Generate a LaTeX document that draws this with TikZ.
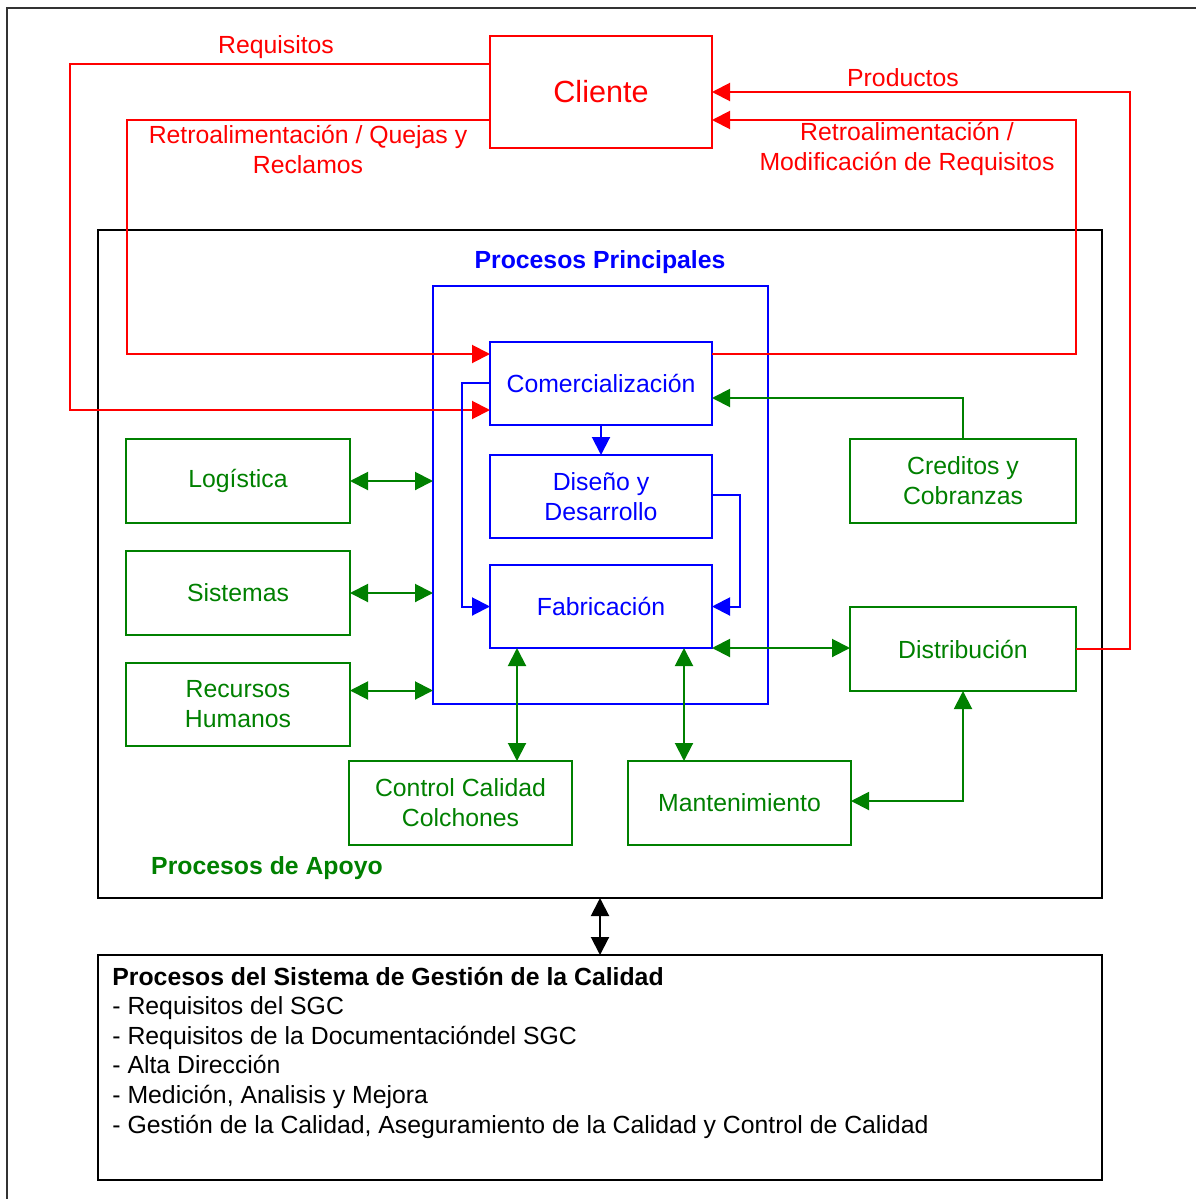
\documentclass[tikz,border=0pt]{standalone}
\usepackage{fontspec}
\setmainfont{Liberation Sans}
\usetikzlibrary{arrows.meta,calc}
\definecolor{gr}{RGB}{0,128,0}
\definecolor{rd}{RGB}{255,0,0}
\definecolor{bl}{RGB}{0,0,255}

\begin{document}
\begin{tikzpicture}[x=0.5pt,y=-0.5pt,
  every node/.style={font=\fontsize{12.4}{15}\selectfont},
  bx/.style 2 args={draw, rectangle, inner sep=0pt, outer sep=0pt,
    minimum width=#1*0.5pt, minimum height=#2*0.5pt, line width=1pt, align=center},
  redbox/.style={draw=rd, text=rd},
  bluebox/.style={draw=bl, text=bl},
  greenbox/.style={draw=gr, text=gr},
  blackbox/.style={draw=black},
  ln/.style={line width=1pt},
  tipend/.style={-{Triangle[length=9pt,width=9pt]}},
  tipboth/.style={{Triangle[length=9pt,width=9pt]}-{Triangle[length=9pt,width=9pt]}},
  redln/.style={ln, draw=rd, tipend},
  blueln/.style={ln, draw=bl, tipend},
  greenln/.style={ln, draw=gr, tipend},
  greenboth/.style={ln, draw=gr, tipboth},
  blackboth/.style={ln, draw=black, tipboth},
  lbl/.style={inner sep=0pt, align=center}
]
\useasboundingbox (0,0) rectangle (1196,1199);

% page frame
\draw[line width=1pt, black!80] (7,1199) -- (7,8) -- (1196,8);

% containers
\node[bx={1004}{668}, blackbox] (apoyo) at (600,564) {};
\node[bx={335}{418}, bluebox] (prin) at (600.5,495) {};
\node[bx={1004}{225}, blackbox] (sgc) at (600,1067.5) {};

% client
\node[bx={222}{112}, redbox, font=\fontsize{15.3}{18}\selectfont] (cliente) at (601,92) {Cliente};

% main processes
\node[bx={222}{83}, bluebox] (comerc) at (601,383) {Comercialización};
\node[bx={222}{83}, bluebox] (diseno) at (601,496.5) {Diseño y\\Desarrollo};
\node[bx={222}{83}, bluebox] (fab) at (601,606.5) {Fabricación};

% support processes
\node[bx={224}{84}, greenbox] (log) at (238,481) {Logística};
\node[bx={224}{84}, greenbox] (sis) at (238,593) {Sistemas};
\node[bx={224}{83}, greenbox] (rh) at (238,704.5) {Recursos\\Humanos};
\node[bx={226}{84}, greenbox] (cred) at (963,481) {Creditos y\\Cobranzas};
\node[bx={226}{84}, greenbox] (dist) at (963,649) {Distribución};
\node[bx={223}{84}, greenbox] (ctrl) at (460.5,803) {Control Calidad\\Colchones};
\node[bx={223}{84}, greenbox] (mant) at (739.5,803) {Mantenimiento};

% titles and labels
\node[lbl, text=bl, font=\fontsize{12.4}{15}\selectfont\bfseries] (tprin) at (600,262) {Procesos Principales};
\node[lbl, text=gr, font=\fontsize{12.4}{15}\selectfont\bfseries] (tapoyo) at (267,868) {Procesos de Apoyo};
\node[lbl, text=rd] (lreq) at (276,47) {Requisitos};
\node[lbl, text=rd] (lquej) at (308,149) {Retroalimentación / Quejas y\\Reclamos};
\node[lbl, text=rd] (lprod) at (903,78) {Productos};
\node[lbl, text=rd] (lmod) at (907,149) {Retroalimentación /\\Modificación de Requisitos};

% quality management system text (anchored at the baseline of its last line)
\node[inner sep=0pt, anchor=base west, align=left, font=\fontsize{12.4}{14.8}\selectfont] (tsgc) at (112,1133)
  {\textbf{Procesos del Sistema de Gestión de la Calidad}\\
   - Requisitos del SGC\\
   - Requisitos de la Documentacióndel SGC\\
   - Alta Dirección\\
   - Medición, Analisis y Mejora\\
   - Gestión de la Calidad, Aseguramiento de la Calidad y Control de Calidad};

% customer loops
\draw[redln] ($(cliente.north west)+(0,28)$) -- (70,64) -- (70,410) -- ($(comerc.south west)+(0,-14.5)$);
\draw[redln] ($(cliente.south west)+(0,-28)$) -- (127,120) -- (127,354) -- ($(comerc.north west)+(0,12.5)$);
\draw[redln] (dist.east) -- (1130,649) -- (1130,92) -- (cliente.east);
\draw[redln] ($(comerc.north east)+(0,12.5)$) -- (1076,354) -- (1076,120) -- ($(cliente.south east)+(0,-28)$);

% main process flow
\draw[blueln] (comerc.south) -- (diseno.north);
\draw[blueln] (comerc.west) -- ++(-28,0) |- (fab.west);
\draw[blueln] ($(diseno.east)+(0,-1.5)$) -- ++(28,0) |- (fab.east);

% support links
\draw[greenboth] (log.east) -- (log.east -| prin.west);
\draw[greenboth] (sis.east) -- (sis.east -| prin.west);
\draw[greenboth] ($(rh.east)+(0,-14)$) coordinate (rhp) -- (rhp -| prin.west);
\draw[greenln] (cred.north) |- ($(comerc.east)+(0,15)$);
\draw[greenboth] (fab.south east) -- (fab.south east -| dist.west);
\coordinate (xq) at (517,0);
\coordinate (xm) at (684,0);
\draw[greenboth] (xq |- fab.south) -- (xq |- ctrl.north);
\draw[greenboth] (xm |- fab.south) -- (xm |- mant.north);
\draw[greenboth] ($(mant.east)+(0,-2)$) -| (dist.south);

% link to the quality management system
\draw[blackboth] (apoyo.south) -- (sgc.north);
\end{tikzpicture}
\end{document}
